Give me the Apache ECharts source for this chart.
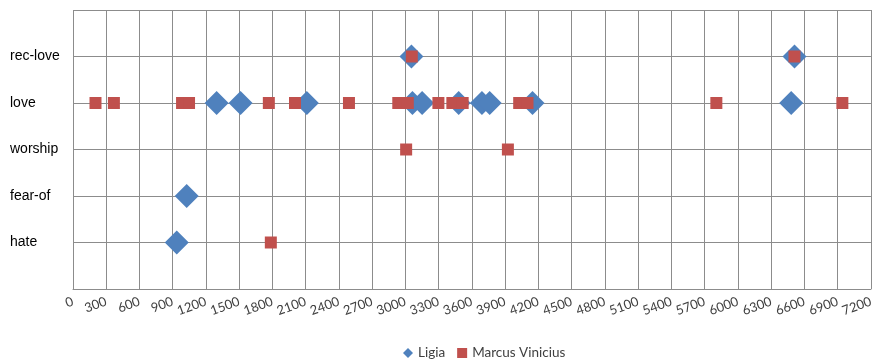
<!DOCTYPE html>
<html>
<head>
<meta charset="utf-8">
<script src="https://cdn.jsdelivr.net/npm/echarts@6/dist/echarts.min.js"></script>
<style>
  html, body { margin: 0; padding: 0; background: #fff; }
  #chart { width: 876px; height: 359px; }
</style>
</head>
<body>
<div id="chart"></div>
<script>
// Emotion rows, bottom to top (row index 1..5; 0 and 6 are blank padding rows)
const emotions = ['hate', 'fear-of', 'worship', 'love', 'rec-love'];

// Position in text (x) and emotion for each character
const ligiaX = [936, 1026, 1296, 1512, 2110, 3063, 3150, 3480, 3690, 3760, 4146, 6480, 3054, 6510];
const ligiaEmotion = ['hate', 'fear-of', 'love', 'love', 'love', 'love', 'love', 'love', 'love', 'love', 'love', 'love', 'rec-love', 'rec-love'];

const marcusX = [1785, 203, 369, 984, 1047, 1767, 2003, 2490, 2935, 3021, 3297, 3423, 3516, 4026, 4101, 5805, 6942, 3006, 3924, 3057, 6510];
const marcusEmotion = ['hate', 'love', 'love', 'love', 'love', 'love', 'love', 'love', 'love', 'love', 'love', 'love', 'love', 'love', 'love', 'love', 'love', 'worship', 'worship', 'rec-love', 'rec-love'];

const xTickStep = 300;
const xMax = 7200;

function toPoints(xs, names) {
  return xs.map((x, i) => [x, emotions.indexOf(names[i]) + 1]);
}

const chart = echarts.init(document.getElementById('chart'));
chart.setOption({
  animation: false,
  textStyle: { fontFamily: 'Lato, "Liberation Sans", sans-serif' },
  grid: { left: 73, right: 4, top: 10, bottom: 70, show: false },
  legend: {
    left: 398, top: 340,
    itemWidth: 10, itemHeight: 10, itemGap: 12,
    textStyle: { fontSize: 13.5, lineHeight: 16, color: '#404040', fontFamily: 'Lato, sans-serif' },
    data: [
      { name: 'Ligia', icon: 'diamond' },
      { name: 'Marcus Vinicius', icon: 'rect' }
    ]
  },
  xAxis: {
    type: 'value', min: 0, max: xMax, interval: xTickStep,
    axisLine: { show: true, lineStyle: { color: '#8c8c8c', width: 1 } },
    axisTick: { show: false },
    splitLine: { show: true, lineStyle: { color: '#8c8c8c', width: 1 } },
    axisLabel: {
      rotate: 20, margin: 12, fontSize: 13, color: '#404040',
      showMaxLabel: true, showMinLabel: true,
      formatter: v => String(v)
    }
  },
  yAxis: {
    type: 'value', min: 0, max: emotions.length + 1, interval: 1,
    axisLine: { show: false },
    axisTick: { show: false },
    splitLine: { show: true, lineStyle: { color: '#8c8c8c', width: 1 } },
    axisLabel: {
      align: 'left', margin: 63, fontSize: 14, color: '#000',
      padding: [4, 0, 0, 0],
      fontFamily: '"Liberation Sans", Arial, sans-serif',
      formatter: v => emotions[v - 1] || ''
    }
  },
  series: [
    {
      name: 'Ligia', type: 'scatter', symbol: 'diamond', symbolSize: 24,
      itemStyle: { color: '#4F81BD', opacity: 1 },
      data: toPoints(ligiaX, ligiaEmotion), z: 2
    },
    {
      name: 'Marcus Vinicius', type: 'scatter', symbol: 'rect', symbolSize: 12,
      itemStyle: { color: '#C0504D', opacity: 1 },
      data: toPoints(marcusX, marcusEmotion), z: 3
    }
  ]
});
</script>
</body>
</html>
